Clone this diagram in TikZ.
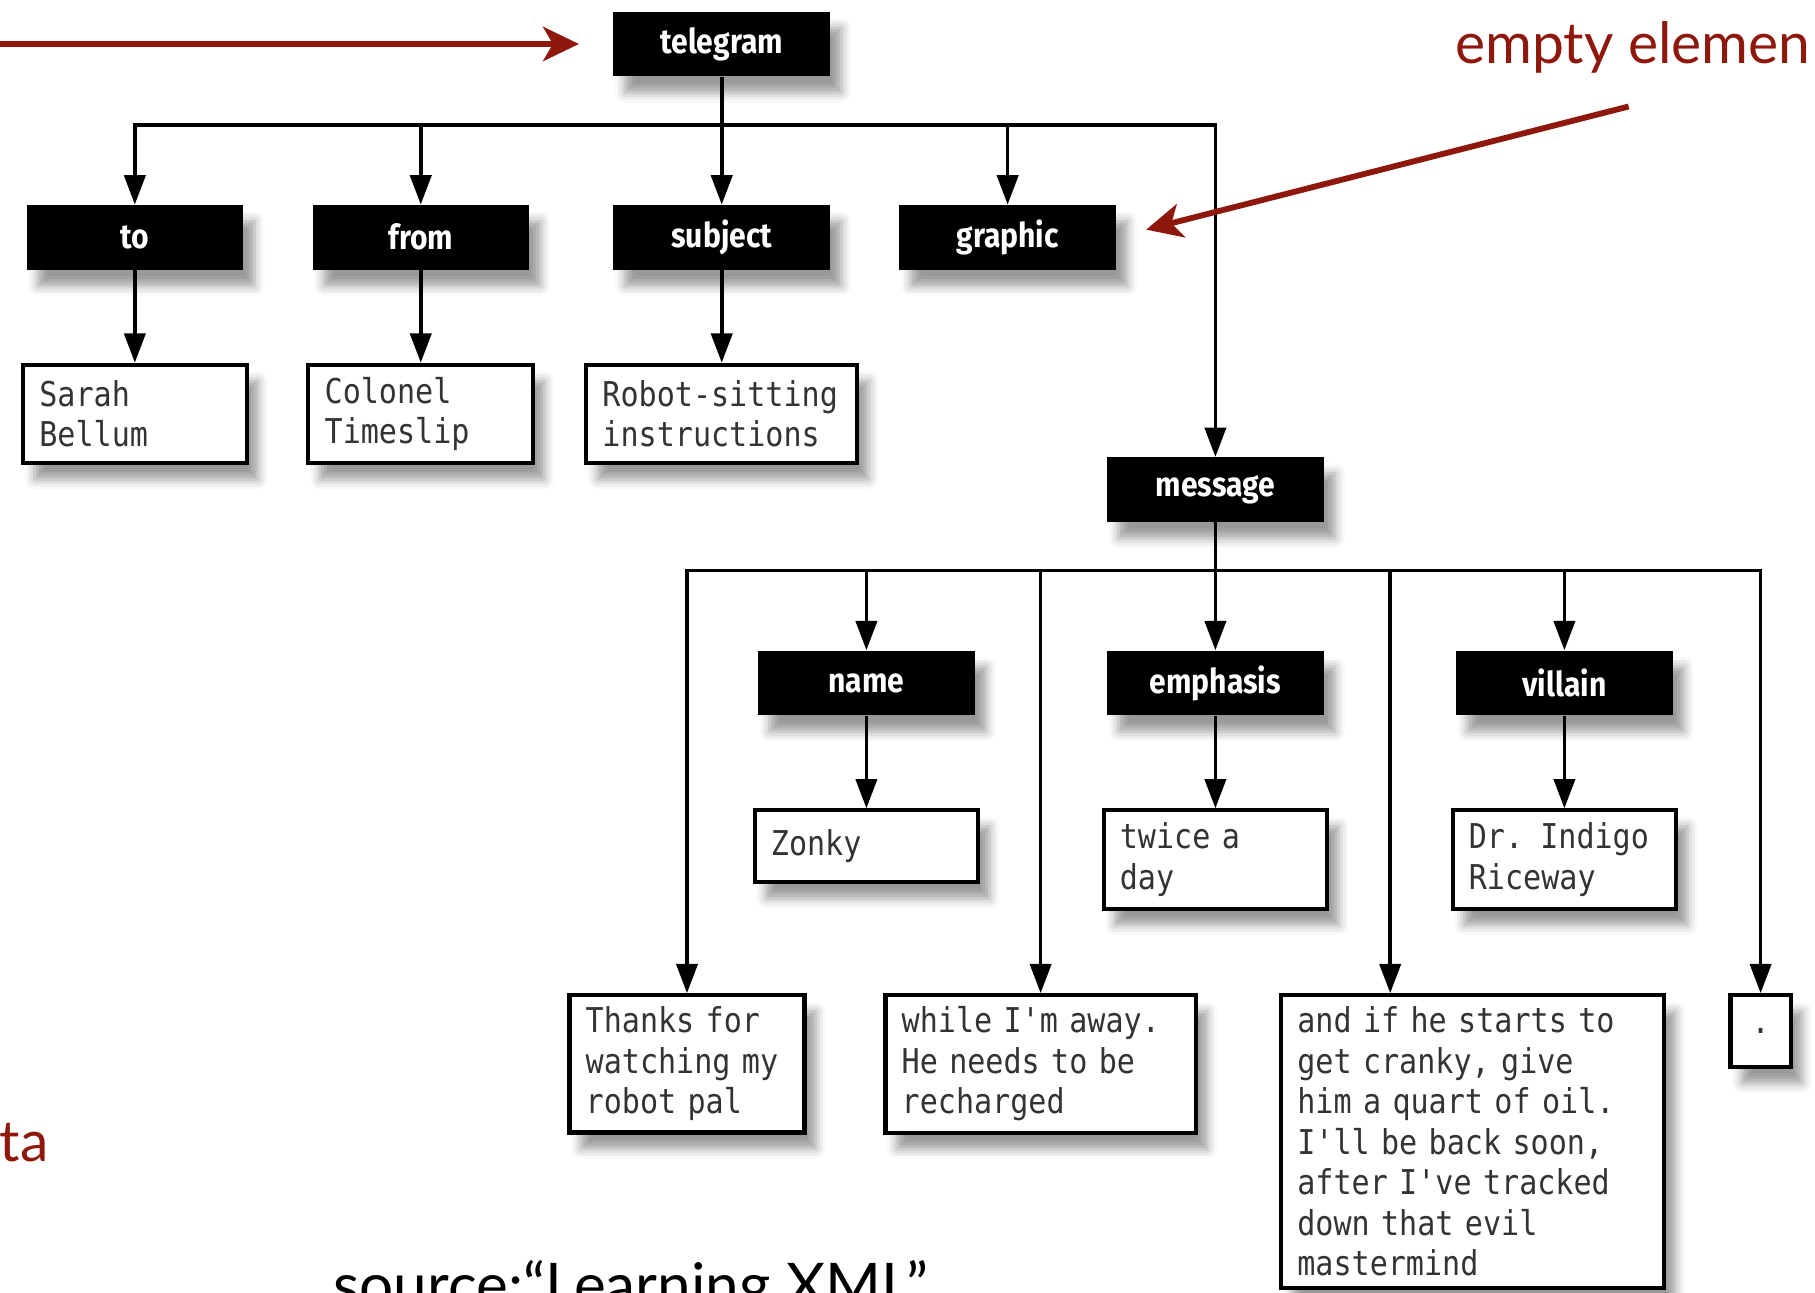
\documentclass[tikz,border=0pt]{standalone}
\usepackage{fontspec}
\newfontfamily\tagfont[FakeStretch=0.88]{Fira Sans}
\newfontfamily\codefont[FakeStretch=0.88]{DejaVu Sans Mono}
\newfontfamily\notefont{Lato}
\usetikzlibrary{arrows.meta, positioning, shadows.blur}
\definecolor{notered}{RGB}{143,24,12}

\begin{document}
\begin{tikzpicture}[
    x=0.025cm, y=-0.025cm,
    boxshadow/.style={blur shadow={shadow xshift=7pt, shadow yshift=-10pt, shadow blur radius=6pt, shadow opacity=40}},
    tag/.style={fill=black, text=white, minimum width=4.675cm, minimum height=1.4cm, inner sep=0pt, font=\tagfont\bfseries\fontsize{21}{24}\selectfont, boxshadow},
    leaf/.style={draw, line width=2.5pt, fill=white, text=black!80, align=left, inner xsep=0.35cm, inner ysep=0.25cm, text width=#1, font=\codefont\fontsize{21}{24.9}\selectfont, boxshadow},
    twoline/.style={minimum height=2.125cm},
    link/.style={draw, line width=2.2pt, -{Triangle[length=18pt, width=13pt]}},
    notearrow/.style={draw=notered, line width=3.6pt, -{Stealth[length=22pt, width=21pt, inset=6pt]}},
    note/.style={text=notered, font=\notefont\fontsize{35}{40}\selectfont, inner sep=0pt}
]
\useasboundingbox (0,0) rectangle (1568,1117);

% element nodes
\node[tag] (telegram) at (623.5,38) {telegram};
\node[tag] (to) at (116.5,205) {to};
\node[tag] (from) at (363.5,205) {from};
\node[tag] (subject) at (623.5,205) {subject};
\node[tag] (graphic) at (870.5,205) {graphic};
\node[tag] (message) at (1050,423) {message};
\node[tag] (name) at (748.5,590) {name};
\node[tag] (emphasis) at (1050,590) {emphasis};
\node[tag] (villain) at (1351.5,590) {villain};

% text nodes
\node[leaf=4.125cm, twoline, below=2cm of to] (sarah) {Sarah\\Bellum};
\node[leaf=4.15cm, twoline, below=2cm of from] (colonel) {Colonel\\Timeslip};
\node[leaf=5.15cm, twoline, below=2cm of subject] (robot) {Robot-sitting\\instructions};
\node[leaf=4.125cm, minimum height=1.55cm, below=2cm of name] (zonky) {Zonky};
\node[leaf=4.125cm, twoline, below=2cm of emphasis] (twice) {twice a\\day};
\node[leaf=4.125cm, twoline, below=2cm of villain] (indigo) {Dr. Indigo\\Riceway};
\node[leaf=4.375cm, anchor=north] (thanks) at (593.5,858) {Thanks for\\watching my\\robot pal};
\node[leaf=6cm, anchor=north] (while) at (899,858) {while I'm away.\\He needs to be\\recharged};
\node[leaf=7.575cm, anchor=north west] (andif) at (1105,858) {and if he starts to\\get cranky, give\\him a quart of oil.\\I'll be back soon,\\after I've tracked\\down that evil\\mastermind};
\node[leaf=0.6cm, align=center, minimum height=1.55cm, anchor=north] (dot) at (1521,858) {.};

% tree lines
\coordinate (bus1) at (0,108);
\coordinate (bus2) at (0,493);
\path (andif.north west) ++(96,0) coordinate (andifin);
\foreach \n in {to, from, subject, graphic, message}
    \draw[link] (telegram.south) |- (bus1 -| \n.north) -- (\n.north);
\foreach \n in {thanks, name, while, emphasis, villain, dot}
    \draw[link] (message.south) |- (bus2 -| \n.north) -- (\n.north);
\draw[link] (message.south) |- (bus2 -| andifin) -- (andifin);
\foreach \a/\b in {to/sarah, from/colonel, subject/robot, name/zonky, emphasis/twice, villain/indigo}
    \draw[link] (\a.south) -- (\b.north);

% notes
\coordinate (arrowstart) at (-10,38);
\coordinate (emptystart) at (1407,92);
\draw[notearrow, shorten >=21pt] (arrowstart) -- (telegram.west);
\draw[notearrow, shorten >=19pt] (emptystart) -- (graphic.east);
\node[note, anchor=base west] (emptylabel) at (1257,55) {empty elemen};
\node[note, anchor=base east] (datalabel) at (42,1003) {ta};
\node[anchor=base west, inner sep=0pt, font=\notefont\fontsize{37}{40}\selectfont] (source) at (288,1129) {source:“Learning XML”};
\end{tikzpicture}
\end{document}
